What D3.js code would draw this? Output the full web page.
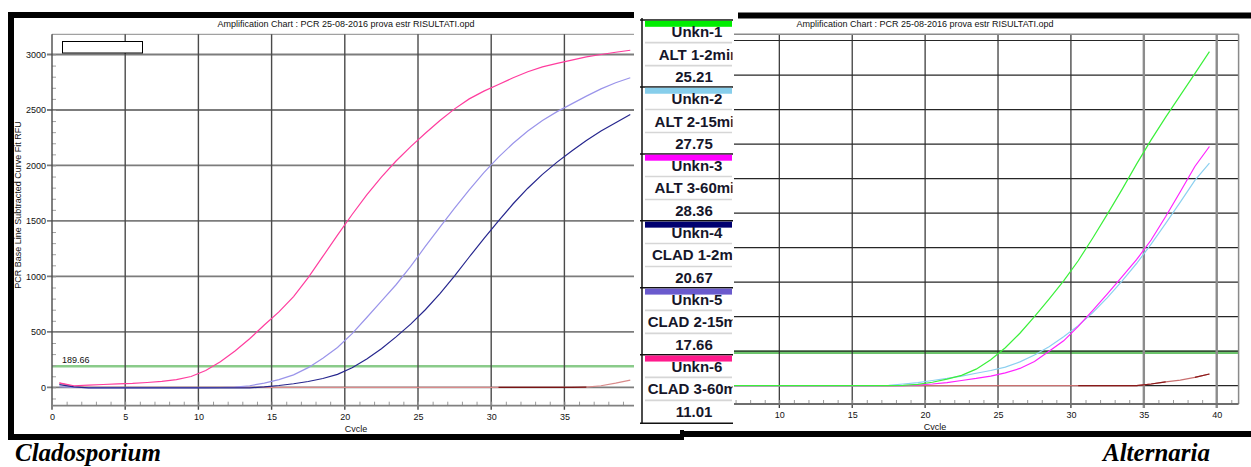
<!DOCTYPE html>
<html>
<head>
<meta charset="utf-8">
<script src="https://cdn.jsdelivr.net/npm/d3@7"></script>
<style>
  body { margin: 0; background: #fff; }
  svg { display: block; }
  .small { font-family: "Liberation Sans", Arial, sans-serif; font-size: 9px; fill: #111; }
</style>
</head>
<body>
<div id="chart"></div>
<script>
const width = 1251, height = 467;

// cycles as the software plots them
const cycles = [0.5,1.5,2.5,3.5,4.5,5.5,6.5,7.5,8.5,9.5,10.5,11.5,12.5,13.5,14.5,15.5,16.5,17.5,18.5,19.5,
  20.5,21.5,22.5,23.5,24.5,25.5,26.5,27.5,28.5,29.5,30.5,31.5,32.5,33.5,34.5,35.5,36.5,37.5,38.5,39.5];

// Cladosporium detector (left chart)
const cladUnkn6 = [40,15,20,26,31,36,44,54,70,98, 152,232,328,438,562,680,818,990,1180,1372,
  1558,1735,1895,2040,2170,2290,2405,2510,2600,2670, 2730,2790,2845,2888,2920,2950,2978,3000,3020,3038];
const cladUnkn5 = [6,0,-2,-2,-2,-2,-2,-2,-2,-2, -2,-1,3,15,38,70,113,178,262,360,
  485,630,778,925,1090,1270,1445,1615,1780,1935, 2075,2200,2310,2405,2485,2555,2625,2690,2745,2790];
const cladUnkn4 = [25,4,-4,-4,-4,-4,-4,-4,-4,-4, -4,-4,-4,-4,5,17,33,53,80,117,
  177,256,348,455,570,700,845,1005,1175,1340, 1500,1655,1795,1920,2030,2130,2225,2310,2385,2460];
const cladAltA = [38,8,0,0,0,0,0,0,0,0, 0,0,0,0,0,0,0,0,0,0,
  0,0,0,0,0,0,0,0,0,0, 0,0,0,0,0,0,3,15,38,66];
const cladAltB = [null,null,null,null,null,null,null,null,null,null, null,null,null,null,null,null,null,null,null,null,
  null,null,null,null,null,null,null,null,null,null, 0,0,0,0,0,0,2,null,null,null];

// Alternaria detector (right chart)
const altUnkn1 = [0,0,0,0,0,0,0,0,0,0, 0,0,0,0,0,0,0,0,1,4,
  10,19,30,48,75,110,152,200,251,304, 362,428,497,568,642,712,778,841,904,968];
const altUnkn2 = [0,0,0,0,0,0,0,0,0,0, 0,0,0,0,0,0,0,1,5,9,
  15,21,28,36,44,54,69,89,113,142, 174,212,255,303,354,410,470,532,595,645];
const altUnkn3 = [0,0,0,0,0,0,0,0,0,0, 0,0,0,0,0,0,0,0,0,2,
  5,9,15,21,28,37,50,70,100,130, 172,218,266,315,365,422,490,562,635,693];
const altCladA = [0,0,0,0,0,0,0,0,0,0, 0,0,0,0,0,0,0,0,0,0,
  0,0,0,0,0,0,0,0,0,0, 0,0,0,0,0,5,11,16,24,34];
const altCladB = [null,null,null,null,null,null,null,null,null,null, null,null,null,null,null,null,null,null,null,null,
  null,null,null,null,null,null,null,null,null,null, 0,0,0,0,0,5,11,null,24,34];

const cladThreshold = 189.66;
const altThreshold = 97;

// ticks
const leftYTicks = [0,500,1000,1500,2000,2500,3000];
const xTicks = [0,5,10,15,20,25,30,35,40];
const leftXLabels = [0,5,10,15,20,25,30,35];
const rightXLabels = [10,15,20,25,30,35,40];
const rightYTicks = [0,100,200,300,400,500,600,700,800,900,1000];

// legend table
const legendWells = ["Unkn-1","Unkn-2","Unkn-3","Unkn-4","Unkn-5","Unkn-6"];
const legendNames = ["ALT 1-2min","ALT 2-15min","ALT 3-60min","CLAD 1-2min","CLAD 2-15min","CLAD 3-60min"];
const legendCt = ["25.21","27.75","28.36","20.67","17.66","11.01"];
const legendColors = ["#00ee00","#87ceeb","#ff00ff","#000070","#6a5acd","#ff1a8c"];

const chartTitle = "Amplification Chart : PCR 25-08-2016 prova estr RISULTATI.opd";

const svg = d3.select("#chart").append("svg")
  .attr("width", width).attr("height", height);
svg.append("rect").attr("width", width).attr("height", height).attr("fill", "#fff");

const defs = svg.append("defs");
defs.append("clipPath").attr("id", "clipL").append("rect")
  .attr("x", 14).attr("y", 0).attr("width", 620).attr("height", 432);
defs.append("clipPath").attr("id", "clipR").append("rect")
  .attr("x", 734).attr("y", 0).attr("width", 517).attr("height", 430);

//scales
const xL = d3.scaleLinear().domain([0, 40]).range([52, 637.6]);
const yL = d3.scaleLinear().domain([-165, 3182]).range([405.7, 34.3]);
const xR = d3.scaleLinear().domain([0, 41.5]).range([633.5, 1238.6]);
const yR = d3.scaleLinear().domain([-53, 1018]).range([404, 34.3]);

function drawCurve(g, x, y, values, color, w) {
  const line = d3.line()
    .defined(d => d[1] !== null)
    .x(d => x(d[0]))
    .y(d => y(d[1]));
  g.append("path")
    .datum(cycles.map((c, i) => [c, values[i]]))
    .attr("d", line)
    .attr("fill", "none")
    .attr("stroke", color)
    .attr("stroke-width", w || 1.2);
}

function styleLabels(a) {
  a.select(".domain").remove();
  a.selectAll("text").attr("class", "small").attr("font-size", null).attr("font-family", null);
}

// ---------- left chart (Cladosporium) ----------
const gL = svg.append("g").attr("clip-path", "url(#clipL)");
const [lx0, lx1] = xL.range();
const [lyB, lyT] = yL.range();

gL.append("line").attr("x1", lx0).attr("x2", lx1).attr("y1", lyT).attr("y2", lyT)
  .attr("stroke", "#8a8a8a").attr("stroke-width", 1);

// threshold
gL.append("line").attr("x1", lx0).attr("x2", lx1)
  .attr("y1", yL(cladThreshold)).attr("y2", yL(cladThreshold))
  .attr("stroke", "#8acb8a").attr("stroke-width", 2.5);

// horizontal grid
gL.selectAll(".hg").data(leftYTicks).enter().append("line")
  .attr("x1", lx0 - 5).attr("x2", lx1)
  .attr("y1", d => yL(d)).attr("y2", d => yL(d))
  .attr("stroke", "#7c7c7c").attr("stroke-width", 1.8);

// vertical grid
gL.selectAll(".vg").data(xTicks.slice(1)).enter().append("line")
  .attr("x1", d => xL(d)).attr("x2", d => xL(d))
  .attr("y1", lyT).attr("y2", lyB + 4)
  .attr("stroke", "#4a4a4a").attr("stroke-width", 1.4);

// minor ticks
gL.append("g").attr("transform", `translate(0,${lyB})`)
  .call(d3.axisBottom(xL).tickValues(d3.range(1, 40)).tickSize(-4).tickFormat(""))
  .call(a => a.select(".domain").remove())
  .call(a => a.selectAll("line").attr("stroke", "#9a9a9a"));
gL.append("g").attr("transform", `translate(${lx0},0)`)
  .call(d3.axisLeft(yL).tickValues(d3.range(-100, 3100, 100)).tickSize(-4).tickFormat(""))
  .call(a => a.select(".domain").remove())
  .call(a => a.selectAll("line").attr("stroke", "#a0a0a0"));

// axis lines
gL.append("line").attr("x1", lx0).attr("x2", lx0).attr("y1", lyT).attr("y2", lyB + 4)
  .attr("stroke", "#4a4a4a").attr("stroke-width", 1.4);
gL.append("line").attr("x1", lx0).attr("x2", lx1).attr("y1", lyB).attr("y2", lyB)
  .attr("stroke", "#808080").attr("stroke-width", 1.8);

// curves
drawCurve(gL, xL, yL, cladAltA, "#d98a8a");
drawCurve(gL, xL, yL, cladAltB, "#7a1414");
drawCurve(gL, xL, yL, cladUnkn5, "#9a94ea");
drawCurve(gL, xL, yL, cladUnkn4, "#26268e");
drawCurve(gL, xL, yL, cladUnkn6, "#ff3d9e");

// labels
gL.append("g").attr("transform", `translate(${lx0 - 4},0)`)
  .call(d3.axisLeft(yL).tickValues(leftYTicks).tickFormat(d3.format("d")).tickSize(0).tickPadding(2))
  .call(styleLabels);
gL.append("g").attr("transform", `translate(0,${lyB + 6})`)
  .call(d3.axisBottom(xL).tickValues(leftXLabels).tickSize(0).tickPadding(2))
  .call(styleLabels);

gL.append("text").attr("class", "small").attr("x", 62).attr("y", yL(cladThreshold) - 3)
  .text(cladThreshold.toFixed(2));
gL.append("text").attr("class", "small").attr("x", 356).attr("y", 432)
  .attr("text-anchor", "middle").text("Cycle");
gL.append("text").attr("class", "small").attr("x", 346).attr("y", 27)
  .attr("text-anchor", "middle").text(chartTitle);
gL.append("text").attr("class", "small")
  .attr("transform", "translate(21,205) rotate(-90)")
  .attr("text-anchor", "middle").text("PCR Base Line Subtracted Curve Fit RFU");
gL.append("rect").attr("x", 62.5).attr("y", 41.5).attr("width", 80).attr("height", 11.5)
  .attr("fill", "#fff").attr("stroke", "#000").attr("stroke-width", 1);

// frame of the left picture
svg.append("rect").attr("x", 8).attr("y", 12).attr("width", 6).attr("height", 428).attr("fill", "#000");
svg.append("rect").attr("x", 8).attr("y", 12).attr("width", 626).attr("height", 6).attr("fill", "#000");

// ---------- right chart (Alternaria) ----------
const gR = svg.append("g").attr("clip-path", "url(#clipR)");
const [rx0, rx1] = xR.range();
const [ryB, ryT] = yR.range();

gR.append("line").attr("x1", rx0).attr("x2", rx1)
  .attr("y1", yR(altThreshold)).attr("y2", yR(altThreshold))
  .attr("stroke", "#6cc46c").attr("stroke-width", 3.4);

gR.selectAll(".hg").data(rightYTicks).enter().append("line")
  .attr("x1", rx0).attr("x2", rx1)
  .attr("y1", d => yR(d)).attr("y2", d => yR(d))
  .attr("stroke", "#262626").attr("stroke-width", 1.2);

gR.selectAll(".vg").data(xTicks.slice(1)).enter().append("line")
  .attr("x1", d => xR(d)).attr("x2", d => xR(d))
  .attr("y1", ryT).attr("y2", ryB + 4)
  .attr("stroke", d => d >= 35 ? "#8c8c8c" : "#2e2e2e")
  .attr("stroke-width", d => d >= 35 ? 2.4 : 1.2);

gR.append("g").attr("transform", `translate(0,${ryB})`)
  .call(d3.axisBottom(xR).tickValues(d3.range(1, 42)).tickSize(-4).tickFormat(""))
  .call(a => a.select(".domain").remove())
  .call(a => a.selectAll("line").attr("stroke", "#9a9a9a"));

gR.append("line").attr("x1", rx0).attr("x2", rx1).attr("y1", ryT).attr("y2", ryT)
  .attr("stroke", "#8a8a8a").attr("stroke-width", 1.5);
gR.append("line").attr("x1", rx1).attr("x2", rx1).attr("y1", ryT).attr("y2", ryB)
  .attr("stroke", "#8a8a8a").attr("stroke-width", 1.5);
gR.append("line").attr("x1", rx0).attr("x2", rx1).attr("y1", ryB).attr("y2", ryB)
  .attr("stroke", "#6e6e6e").attr("stroke-width", 1.8);

drawCurve(gR, xR, yR, altCladA, "#c97070");
drawCurve(gR, xR, yR, altCladB, "#8a1a1a");
drawCurve(gR, xR, yR, altUnkn2, "#8cd0f0");
drawCurve(gR, xR, yR, altUnkn3, "#ff22ff");
drawCurve(gR, xR, yR, altUnkn1, "#3af03a");

gR.append("g").attr("transform", `translate(0,${ryB + 6})`)
  .call(d3.axisBottom(xR).tickValues(rightXLabels).tickSize(0).tickPadding(2))
  .call(styleLabels);
gR.append("text").attr("class", "small").attr("x", 935).attr("y", 430)
  .attr("text-anchor", "middle").text("Cycle");
gR.append("text").attr("class", "small").attr("x", 925).attr("y", 27)
  .attr("text-anchor", "middle").text(chartTitle);

svg.append("rect").attr("x", 738).attr("y", 12.5).attr("width", 513).attr("height", 6).attr("fill", "#000");

// bottom bars
svg.append("rect").attr("x", 8).attr("y", 434).attr("width", 676).attr("height", 6).attr("fill", "#000");
svg.append("rect").attr("x", 680).attr("y", 431).attr("width", 571).attr("height", 6).attr("fill", "#000");
svg.append("rect").attr("x", 680).attr("y", 430).attr("width", 4).attr("height", 10).attr("fill", "#000");

// ---------- legend table ----------
const legend = svg.append("g");
defs.append("clipPath").attr("id", "clipLeg").append("rect")
  .attr("x", 642).attr("y", 0).attr("width", 90.5).attr("height", 430);
const groupH = 66.95, top0 = 20;

const rows = legend.selectAll(".row").data(legendWells).enter().append("g")
  .attr("class", "row")
  .attr("transform", (d, i) => `translate(0,${top0 + i * groupH})`);

rows.append("line").attr("x1", 640).attr("x2", 733).attr("y1", 0).attr("y2", 0)
  .attr("stroke", "#111").attr("stroke-width", 1.5);
rows.append("rect").attr("x", 645).attr("y", 0.8).attr("width", 87).attr("height", 6)
  .attr("fill", (d, i) => legendColors[i]);
rows.append("line").attr("x1", 645).attr("x2", 732).attr("y1", 22.6).attr("y2", 22.6)
  .attr("stroke", "#d6d6d6").attr("stroke-width", 1.6);
rows.append("line").attr("x1", 645).attr("x2", 732).attr("y1", 45.6).attr("y2", 45.6)
  .attr("stroke", "#d6d6d6").attr("stroke-width", 1.6);

const legText = rows.append("g").attr("clip-path", "url(#clipLeg)")
  .style("font-family", "'Liberation Sans', Arial, sans-serif")
  .style("font-weight", "bold").style("font-size", "15px").attr("fill", "#16162a")
  .attr("text-anchor", "middle");
legText.append("text").attr("x", 697).attr("y", 17.3).text(d => d);
legText.append("text").attr("x", 699).attr("y", 39.6).text((d, i) => legendNames[i]);
legText.append("text").attr("x", 694).attr("y", 62.4).text((d, i) => legendCt[i]);

legend.append("line").attr("x1", 640).attr("x2", 733)
  .attr("y1", top0 + 6 * groupH + 1.5).attr("y2", top0 + 6 * groupH + 1.5)
  .attr("stroke", "#111").attr("stroke-width", 1.5);
legend.append("line").attr("x1", 642).attr("x2", 642).attr("y1", 18).attr("y2", 424)
  .attr("stroke", "#111").attr("stroke-width", 1.5);

// captions
svg.append("text").attr("x", 15).attr("y", 461)
  .style("font-family", "'Liberation Serif', 'Times New Roman', serif")
  .style("font-weight", "bold").style("font-style", "italic").style("font-size", "25px")
  .text("Cladosporium");
svg.append("text").attr("x", 1103).attr("y", 461)
  .style("font-family", "'Liberation Serif', 'Times New Roman', serif")
  .style("font-weight", "bold").style("font-style", "italic").style("font-size", "25px")
  .text("Alternaria");
</script>
</body>
</html>
